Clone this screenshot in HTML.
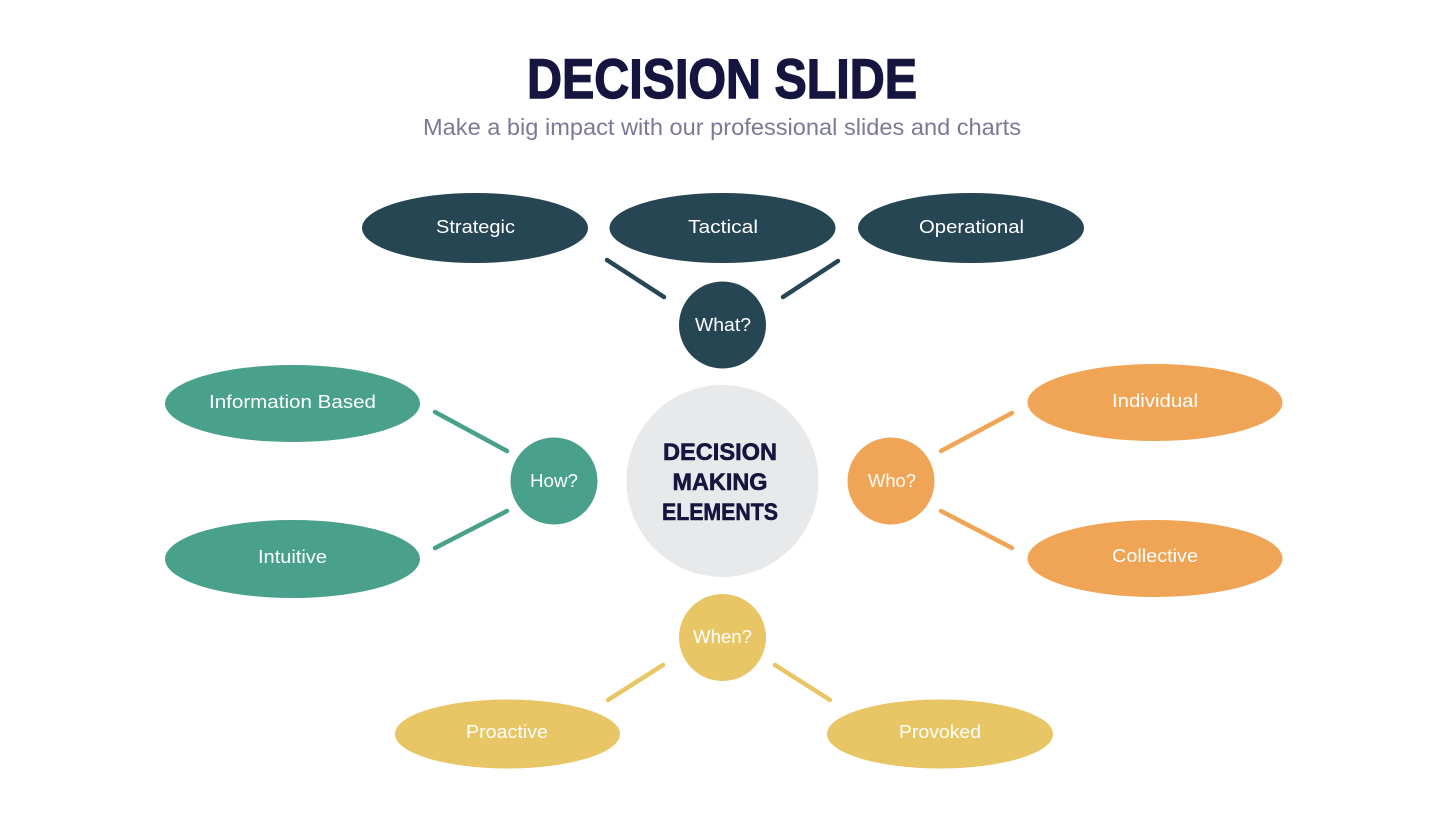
<!DOCTYPE html>
<html>
<head>
<meta charset="utf-8">
<style>
  html,body{margin:0;padding:0;background:#ffffff;}
  svg{display:block;}
  text{font-family:"Liberation Sans", sans-serif;}
</style>
</head>
<body>
<svg width="1445" height="813" viewBox="0 0 1445 813" xmlns="http://www.w3.org/2000/svg">
  <rect width="1445" height="813" fill="#ffffff"/>

  <!-- Title -->
  <text x="722" y="98" text-anchor="middle" font-size="56" font-weight="bold" fill="#15153f" stroke="#15153f" stroke-width="1.4" textLength="390" lengthAdjust="spacingAndGlyphs">DECISION SLIDE</text>
  <text x="722" y="135" text-anchor="middle" font-size="23" fill="#7a7a96" textLength="598" lengthAdjust="spacingAndGlyphs">Make a big impact with our professional slides and charts</text>

  <!-- Connectors -->
  <g stroke-width="4.5" stroke-linecap="round">
    <line x1="607" y1="260" x2="664" y2="297" stroke="#264653"/>
    <line x1="783" y1="297" x2="838" y2="261" stroke="#264653"/>
    <line x1="435" y1="412" x2="507" y2="451" stroke="#49a08b"/>
    <line x1="435" y1="548" x2="507" y2="511" stroke="#49a08b"/>
    <line x1="941" y1="451" x2="1012" y2="413" stroke="#f0a556"/>
    <line x1="941" y1="511" x2="1012" y2="548" stroke="#f0a556"/>
    <line x1="608" y1="700" x2="663" y2="665" stroke="#e8c565"/>
    <line x1="775" y1="665" x2="830" y2="700" stroke="#e8c565"/>
  </g>

  <!-- Top ellipses -->
  <g fill="#264653">
    <ellipse cx="475" cy="228" rx="113" ry="35"/>
    <ellipse cx="722.5" cy="228" rx="113" ry="35"/>
    <ellipse cx="971" cy="228" rx="113" ry="35"/>
    <circle cx="722.5" cy="325" r="43.5"/>
  </g>
  <!-- Left -->
  <g fill="#49a08b">
    <ellipse cx="292.5" cy="403.5" rx="127.5" ry="38.5"/>
    <ellipse cx="292.5" cy="559" rx="127.5" ry="39"/>
    <circle cx="554" cy="481" r="43.5"/>
  </g>
  <!-- Right -->
  <g fill="#f0a556">
    <ellipse cx="1155" cy="402.5" rx="127.5" ry="38.5"/>
    <ellipse cx="1155" cy="558.5" rx="127.5" ry="38.5"/>
    <circle cx="891" cy="481" r="43.5"/>
  </g>
  <!-- Bottom -->
  <g fill="#e8c565">
    <ellipse cx="507.5" cy="734" rx="112.5" ry="34.5"/>
    <ellipse cx="940" cy="734" rx="113" ry="34.5"/>
    <circle cx="722.5" cy="637.5" r="43.5"/>
  </g>

  <!-- Center -->
  <circle cx="722.5" cy="481" r="96" fill="#e8e9eb"/>
  <g font-weight="bold" font-size="24" fill="#15153f" stroke="#15153f" stroke-width="0.6" text-anchor="middle">
    <text x="720" y="460" textLength="114" lengthAdjust="spacingAndGlyphs">DECISION</text>
    <text x="720" y="490" textLength="95" lengthAdjust="spacingAndGlyphs">MAKING</text>
    <text x="720" y="520" textLength="116" lengthAdjust="spacingAndGlyphs">ELEMENTS</text>
  </g>

  <!-- Labels -->
  <g fill="#ffffff" font-size="18" text-anchor="middle">
    <text x="475.5" y="233" textLength="79" lengthAdjust="spacingAndGlyphs">Strategic</text>
    <text x="723" y="233" textLength="70" lengthAdjust="spacingAndGlyphs">Tactical</text>
    <text x="971.5" y="233" textLength="105" lengthAdjust="spacingAndGlyphs">Operational</text>
    <text x="723" y="331" textLength="56" lengthAdjust="spacingAndGlyphs">What?</text>

    <text x="292.5" y="408" textLength="167" lengthAdjust="spacingAndGlyphs">Information  Based</text>
    <text x="292.5" y="563" textLength="69" lengthAdjust="spacingAndGlyphs">Intuitive</text>
    <text x="554" y="487" textLength="48" lengthAdjust="spacingAndGlyphs">How?</text>

    <text x="1155" y="407" textLength="86" lengthAdjust="spacingAndGlyphs">Individual</text>
    <text x="1155" y="562" textLength="86" lengthAdjust="spacingAndGlyphs">Collective</text>
    <text x="892" y="487" textLength="48" lengthAdjust="spacingAndGlyphs">Who?</text>

    <text x="507" y="738" textLength="82" lengthAdjust="spacingAndGlyphs">Proactive</text>
    <text x="940" y="738" textLength="82" lengthAdjust="spacingAndGlyphs">Provoked</text>
    <text x="722.5" y="643" textLength="59" lengthAdjust="spacingAndGlyphs">When?</text>
  </g>
</svg>
</body>
</html>
